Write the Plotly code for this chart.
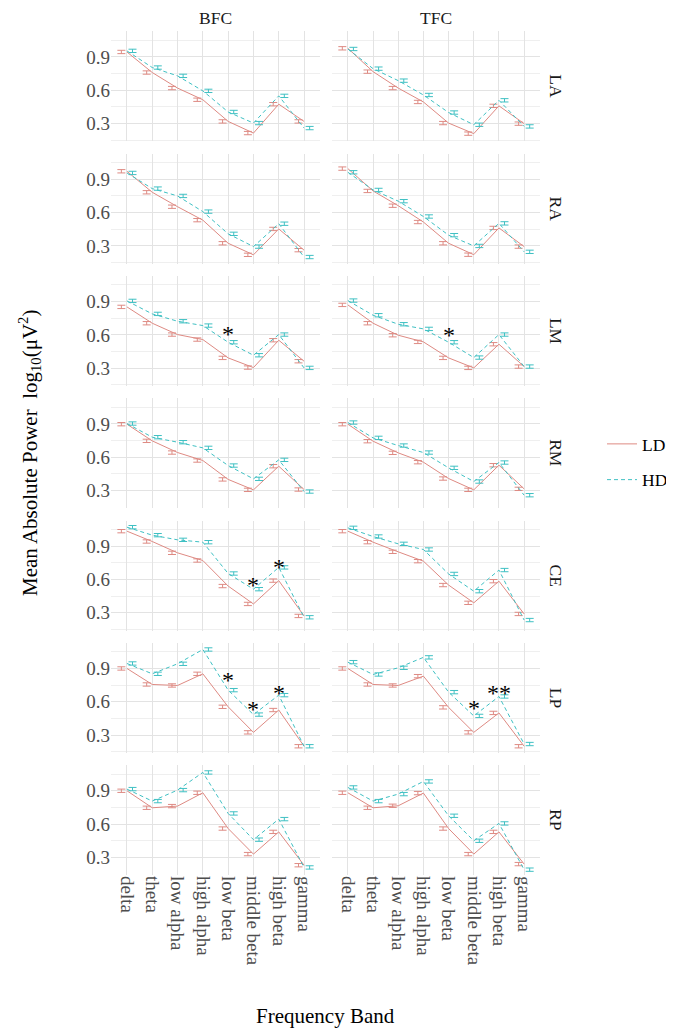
import plotly.graph_objects as go

BANDS = ["delta", "theta", "low alpha", "high alpha", "low beta", "middle beta", "high beta", "gamma"]
REGIONS = ["LA", "RA", "LM", "RM", "CE", "LP", "RP"]
CONDS = ["BFC", "TFC"]
Y_TICKS = [0.3, 0.6, 0.9]

LD_BFC = {
    "LA": [0.945, 0.76, 0.62, 0.515, 0.32, 0.215, 0.475, 0.32],
    "RA": [0.972, 0.783, 0.653, 0.532, 0.324, 0.22, 0.453, 0.262],
    "LM": [0.852, 0.705, 0.603, 0.558, 0.393, 0.306, 0.552, 0.363],
    "RM": [0.897, 0.747, 0.642, 0.57, 0.40, 0.306, 0.519, 0.309],
    "CE": [1.035, 0.942, 0.84, 0.771, 0.541, 0.38, 0.59, 0.272],
    "LP": [0.90, 0.756, 0.747, 0.852, 0.555, 0.325, 0.526, 0.20],
    "RP": [0.90, 0.747, 0.762, 0.882, 0.56, 0.33, 0.53, 0.23],
}
HD_BFC = {
    "LA": [0.955, 0.805, 0.73, 0.595, 0.405, 0.305, 0.55, 0.26],
    "RA": [0.957, 0.816, 0.75, 0.609, 0.409, 0.294, 0.50, 0.20],
    "LM": [0.906, 0.789, 0.723, 0.684, 0.534, 0.417, 0.603, 0.303],
    "RM": [0.903, 0.78, 0.735, 0.684, 0.525, 0.405, 0.576, 0.291],
    "CE": [1.071, 0.999, 0.957, 0.936, 0.654, 0.513, 0.709, 0.26],
    "LP": [0.945, 0.852, 0.942, 1.071, 0.705, 0.485, 0.66, 0.20],
    "RP": [0.915, 0.807, 0.906, 1.065, 0.696, 0.46, 0.645, 0.21],
}
LD_TFC = {
    "LA": [0.978, 0.768, 0.62, 0.495, 0.305, 0.21, 0.46, 0.30],
    "RA": [0.996, 0.795, 0.662, 0.515, 0.324, 0.221, 0.462, 0.294],
    "LM": [0.87, 0.705, 0.597, 0.537, 0.393, 0.303, 0.516, 0.315],
    "RM": [0.897, 0.744, 0.639, 0.555, 0.408, 0.306, 0.528, 0.315],
    "CE": [1.035, 0.936, 0.849, 0.765, 0.55, 0.39, 0.585, 0.29],
    "LP": [0.90, 0.756, 0.747, 0.831, 0.55, 0.325, 0.50, 0.20],
    "RP": [0.882, 0.747, 0.765, 0.879, 0.56, 0.33, 0.53, 0.24],
}
HD_TFC = {
    "LA": [0.972, 0.795, 0.687, 0.558, 0.40, 0.29, 0.51, 0.275],
    "RA": [0.963, 0.804, 0.703, 0.565, 0.397, 0.30, 0.503, 0.247],
    "LM": [0.909, 0.777, 0.696, 0.654, 0.534, 0.396, 0.603, 0.315],
    "RM": [0.912, 0.774, 0.705, 0.642, 0.504, 0.381, 0.552, 0.258],
    "CE": [1.065, 0.987, 0.921, 0.87, 0.65, 0.495, 0.685, 0.235],
    "LP": [0.957, 0.846, 0.906, 1.0, 0.687, 0.473, 0.648, 0.22],
    "RP": [0.93, 0.807, 0.87, 0.984, 0.675, 0.45, 0.606, 0.19],
}
SE = 0.015

# significance markers: (region, condition, band, y, label)
STARS = [
    ("LM", "BFC", "low beta", 0.66, "*"),
    ("LM", "TFC", "low beta", 0.654, "*"),
    ("CE", "BFC", "middle beta", 0.60, "*"),
    ("CE", "BFC", "high beta", 0.765, "*"),
    ("LP", "BFC", "low beta", 0.852, "*"),
    ("LP", "BFC", "middle beta", 0.585, "*"),
    ("LP", "BFC", "high beta", 0.732, "*"),
    ("LP", "TFC", "middle beta", 0.594, "*"),
    ("LP", "TFC", "high beta", 0.732, "**"),
]

DATA = {("BFC", "LD"): LD_BFC, ("BFC", "HD"): HD_BFC, ("TFC", "LD"): LD_TFC, ("TFC", "HD"): HD_TFC}

W, H = 674, 1029
COL_PX = [(103, 312), (324, 532)]
ROW_TOP0, PITCH, PH = 23.3, 122.3, 110
FONT = "Liberation Serif"
C_LD = "#DE8A83"
C_HD = "#3FC0C3"
DODGE = 0.22

fig = go.Figure()
layout = {}
xs = list(range(len(BANDS)))

for r, reg in enumerate(REGIONS):
    for c, cond in enumerate(CONDS):
        k = r * 2 + c + 1
        xa = "x" if k == 1 else f"x{k}"
        ya = "y" if k == 1 else f"y{k}"
        top = ROW_TOP0 + PITCH * r
        bot = top + PH
        x0, x1 = COL_PX[c]
        for grp, col, dash, off in [("LD", C_LD, "solid", -DODGE), ("HD", C_HD, "4px,3px", DODGE)]:
            vals = DATA[(cond, grp)][reg]
            fig.add_trace(go.Scatter(
                x=xs, y=vals, mode="lines", xaxis=xa, yaxis=ya,
                line=dict(color=col, width=1, dash=dash),
                name=grp, legendgroup=grp, showlegend=(k == 1), hoverinfo="skip"))
            fig.add_trace(go.Scatter(
                x=[i + off for i in xs], y=vals, mode="markers", xaxis=xa, yaxis=ya,
                marker=dict(size=1, color="rgba(0,0,0,0)"),
                error_y=dict(type="constant", value=SE, color=col, thickness=1, width=4),
                showlegend=False, hoverinfo="skip"))
        layout["xaxis" if k == 1 else f"xaxis{k}"] = dict(
            domain=[x0 / W, x1 / W], anchor=ya, range=[-0.63, len(BANDS) - 1 + 0.63],
            tickvals=xs, ticktext=BANDS, showticklabels=(r == len(REGIONS) - 1),
            tickangle=90, tickfont=dict(family=FONT, size=19, color="#4D4D4D"),
            showgrid=True, gridcolor="#E3E3E3", gridwidth=1, zeroline=False,
            showline=False, ticks="", ticklen=0)
        layout["yaxis" if k == 1 else f"yaxis{k}"] = dict(
            domain=[1 - bot / H, 1 - top / H], anchor=xa, range=[0.141, 1.131],
            tickvals=Y_TICKS, ticktext=[f"{v:.1f}" for v in Y_TICKS],
            showticklabels=(c == 0), tickfont=dict(family=FONT, size=19, color="#4D4D4D"),
            showgrid=True, gridcolor="#E3E3E3", gridwidth=1, zeroline=False,
            showline=False, ticks="",
            minor=dict(tickvals=[0.15, 0.45, 0.75, 1.05], showgrid=True, gridcolor="#EFEFEF", gridwidth=1))

annotations = []
for c, cond in enumerate(CONDS):
    x0, x1 = COL_PX[c]
    annotations.append(dict(text=cond, x=(x0 + x1) / 2 / W, y=1 - 10 / H, xref="paper", yref="paper",
                            showarrow=False, font=dict(family=FONT, size=17.5, color="#1A1A1A"),
                            xanchor="center", yanchor="middle"))
for r, reg in enumerate(REGIONS):
    top = ROW_TOP0 + PITCH * r
    annotations.append(dict(text=reg, x=548 / W, y=1 - (top + PH / 2) / H, xref="paper", yref="paper",
                            showarrow=False, textangle=90, font=dict(family=FONT, size=17.5, color="#1A1A1A"),
                            xanchor="center", yanchor="middle"))
for reg, cond, band, yv, lab in STARS:
    r = REGIONS.index(reg)
    c = CONDS.index(cond)
    k = r * 2 + c + 1
    annotations.append(dict(text=lab, x=BANDS.index(band), y=yv,
                            xref="x" if k == 1 else f"x{k}", yref="y" if k == 1 else f"y{k}",
                            showarrow=False, font=dict(family=FONT, size=24, color="black"),
                            xanchor="center", yanchor="middle", yshift=-6))
annotations.append(dict(text="Mean Absolute Power  log<sub>10</sub>(μV<sup>2</sup>)", x=22 / W, y=1 - 445 / H,
                        xref="paper", yref="paper", showarrow=False, textangle=-90,
                        font=dict(family=FONT, size=21, color="black"), xanchor="center", yanchor="middle"))
annotations.append(dict(text="Frequency Band", x=317.5 / W, y=1 - 1008 / H, xref="paper", yref="paper",
                        showarrow=False, font=dict(family=FONT, size=21, color="black"),
                        xanchor="center", yanchor="middle"))

fig.update_layout(
    width=W, height=H, margin=dict(l=0, r=0, t=0, b=0),
    plot_bgcolor="white", paper_bgcolor="white",
    font=dict(family=FONT),
    annotations=annotations,
    legend=dict(x=594 / W, y=1 - 418 / H, xanchor="left", yanchor="top",
                font=dict(family=FONT, size=17.5, color="black"), tracegroupgap=10,
                traceorder="grouped", bgcolor="rgba(0,0,0,0)"),
    **layout,
)
fig.write_html("out.html")
